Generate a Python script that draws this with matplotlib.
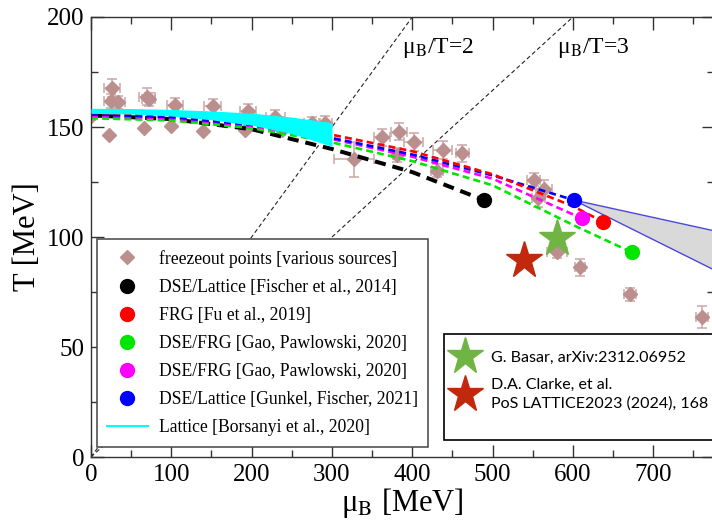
import numpy as np
import matplotlib
matplotlib.use("Agg")
import matplotlib.pyplot as plt
from matplotlib.lines import Line2D
from matplotlib.patches import Rectangle

plt.rcParams['font.family'] = ['Liberation Serif', 'DejaVu Serif']
plt.rcParams['mathtext.fontset'] = 'stix'
plt.rcParams['lines.scale_dashes'] = False

# freeze-out points: mu_B [MeV], T [MeV] and their errors
fo_mu = [0, 26, 24.5, 34, 22, 69.6, 72, 65.4, 104, 100, 151.3, 140, 195.3, 192,
         229.4, 237.7, 275, 291.6, 327, 362, 383, 401.6, 381, 438, 462, 430.7,
         551, 564.4, 557, 580, 609, 671, 760.7]
fo_T = [155, 167.6, 161.8, 161.3, 146.5, 163.8, 162.5, 149.7, 160, 150.5, 159.5,
        148.2, 157.4, 148.6, 154.7, 148.6, 151.7, 152, 135.3, 145.3, 147.9, 143.3,
        137.3, 139.5, 138, 130.1, 126, 122, 117.6, 93.3, 86.2, 74, 63.8]
fo_dmu = [5, 10, 8, 8, 0, 10, 8, 0, 10, 0, 10, 0, 10, 0, 12, 0, 10, 8, 25, 10,
          10, 12, 5, 12, 8, 8, 8, 10, 8, 12, 6, 8, 8]
fo_dT = [2, 4, 3, 3, 0, 4, 3, 0, 3, 0, 3, 0, 3, 0, 3, 0, 3, 3, 8, 4, 4, 4, 3,
         4, 4, 3, 3, 4, 4, 3, 4, 3, 5]

# crossover lines ending at the critical end points
fischer_mu = [0, 100, 200, 300, 400, 489]
fischer_T = [155.3, 153.6, 149, 140, 129.5, 116.8]
fu_mu = [0, 100, 200, 300, 400, 500, 600, 637]
fu_T = [156.5, 155.5, 152, 146.5, 139, 128.5, 114, 107]
gao_a_mu = [0, 100, 200, 300, 400, 500, 600, 673.6]
gao_a_T = [154, 153, 149.5, 143, 134.5, 123.5, 105.5, 93]
gao_b_mu = [0, 100, 200, 300, 400, 500, 611]
gao_b_T = [155, 154, 150.5, 144.5, 136.5, 126.5, 108.5]
gunkel_mu = [0, 100, 200, 300, 400, 500, 601]
gunkel_T = [155.7, 154.5, 151, 145, 137.5, 128, 116.8]

# first-order region beyond the Gunkel/Fischer CEP
band_mu = [601, 776]
band_hi = [116.8, 102.8]
band_lo = [116.8, 85]

# lattice band (Borsanyi et al.)
lat_mu = [0, 50, 100, 150, 200, 250, 300]
lat_hi = [158.5, 158.4, 158, 157.3, 156.3, 154.5, 152]
lat_lo = [156.2, 155.9, 155, 153.3, 150.8, 147, 141.2]

# CEP estimates (stars)
basar_mu, basar_T = 580, 99.4
clarke_mu, clarke_T = 538.6, 89.5

fo_col = '#bc8f8f'
green = '#00e600'
star_green = '#70b444'
star_red = '#c0290c'

fig = plt.figure(figsize=(7.12, 5.2), dpi=100)
ax = fig.add_axes([91 / 712, 63 / 520, 622.5 / 712, 440 / 520])

# mu_B/T = const lines
mu_line = np.array([0, 800])
for r in (2, 3):
    ax.plot(mu_line, mu_line / r, color='#222222', lw=0.8, dashes=(3, 2), zorder=1)

ax.errorbar(fo_mu, fo_T, xerr=fo_dmu, yerr=fo_dT, fmt='D', ms=7, color=fo_col,
            ecolor='#cba7a7', elinewidth=1.1, capsize=3.5, capthick=1.1, zorder=2)

ax.fill_between(band_mu, band_lo, band_hi, color='#d9d9d9', lw=0, zorder=2)
ax.plot(band_mu, band_hi, color='#4848dd', lw=1.0, zorder=2.2)
ax.plot(band_mu, band_lo, color='#4848dd', lw=1.0, zorder=2.2)

ax.plot(fischer_mu, fischer_T, color='black', lw=2.9, dashes=(8, 5), zorder=2.5)
ax.plot(gao_a_mu, gao_a_T, color=green, lw=1.9, dashes=(5, 3), zorder=2.5)
ax.plot(gao_b_mu, gao_b_T, color='#ff00ff', lw=1.9, dashes=(5, 3), zorder=2.5)
ax.plot(gunkel_mu, gunkel_T, color='#0000ff', lw=1.9, dashes=(5, 3), zorder=2.5)
ax.plot(fu_mu, fu_T, color='#ff0000', lw=1.9, dashes=(5, 3), zorder=2.5)

ax.fill_between(lat_mu, lat_lo, lat_hi, color='#00ffff', lw=0, zorder=3)

# end points
ends = [(fischer_mu, fischer_T, 'black'), (fu_mu, fu_T, '#ff0000'),
        (gao_a_mu, gao_a_T, green), (gao_b_mu, gao_b_T, '#ff00ff'),
        (gunkel_mu, gunkel_T, '#0000ff')]
for m, t, c in ends:
    ax.plot(m[-1], t[-1], 'o', ms=10, color=c, zorder=6)

ax.plot(basar_mu, basar_T, '*', ms=28, color=star_green, zorder=6)
ax.plot(clarke_mu, clarke_T, '*', ms=28, color=star_red, zorder=6)

ax.text(386.8, 183.6, 'μ$_\\mathrm{B}$/T=2', fontsize=17)
ax.text(580, 183.6, 'μ$_\\mathrm{B}$/T=3', fontsize=17)

ax.set_xlim(0, 775)
ax.set_ylim(0, 200)
ax.set_xticks(np.arange(0, 701, 100))
ax.set_xticks(np.arange(0, 776, 50), minor=True)
ax.set_yticks(np.arange(0, 201, 50))
ax.set_yticks(np.arange(0, 201, 25), minor=True)
ax.tick_params(which='both', direction='in', top=True, right=True,
               width=1.0, color='#333333', labelsize=18)
ax.tick_params(which='major', length=9, pad=5)
ax.tick_params(which='minor', length=5)
for s in ax.spines.values():
    s.set_linewidth(1.0)
    s.set_color('#333333')

ax.set_xlabel('μ$_\\mathrm{B}$ [MeV]', fontsize=22, labelpad=0)
ax.set_ylabel('T [MeV]', fontsize=22, labelpad=3)

handles = [
    Line2D([], [], ls='none', marker='D', ms=7, color=fo_col),
    Line2D([], [], ls='none', marker='o', ms=10, color='black'),
    Line2D([], [], ls='none', marker='o', ms=10, color='#ff0000'),
    Line2D([], [], ls='none', marker='o', ms=10, color=green),
    Line2D([], [], ls='none', marker='o', ms=10, color='#ff00ff'),
    Line2D([], [], ls='none', marker='o', ms=10, color='#0000ff'),
    Line2D([], [], color='#00ffff', lw=1.5),
]
labels = [
    'freezeout points [various sources]',
    'DSE/Lattice [Fischer et al., 2014]',
    'FRG [Fu et al., 2019]',
    'DSE/FRG [Gao, Pawlowski, 2020]',
    'DSE/FRG [Gao, Pawlowski, 2020]',
    'DSE/Lattice [Gunkel, Fischer, 2021]',
    'Lattice [Borsanyi et al., 2020]',
]
leg1 = ax.legend(handles, labels, loc='lower left', bbox_to_anchor=(0.009, 0.023),
                 borderaxespad=0, fontsize=12.7, handlelength=2.3, handletextpad=0.62,
                 borderpad=0.6, labelspacing=0.63, fancybox=False, framealpha=1,
                 edgecolor='#444444')
leg1.get_frame().set_linewidth(1.1)
leg1.set_zorder(7)
ax.add_artist(leg1)

box = Rectangle((0.5673, 0.0386), 0.5, 0.241, transform=ax.transAxes,
                fc='white', ec='black', lw=1.2, clip_on=False, zorder=7)
ax.add_patch(box)

star_handles = [
    Line2D([], [], ls='none', marker='*', ms=28, color=star_green),
    Line2D([], [], ls='none', marker='*', ms=28, color=star_red),
]
leg2 = ax.legend(star_handles,
                 ['G. Basar, arXiv:2312.06952',
                  'D.A. Clarke, et al.\nPoS LATTICE2023 (2024), 168'],
                 loc='upper left', bbox_to_anchor=(0.5673, 0.2795), borderaxespad=0,
                 frameon=False, prop={'family': 'Lato', 'size': 11.5},
                 handlelength=0.46, handletextpad=1.4, borderpad=1.05,
                 labelspacing=0.8)
for t in leg2.get_texts():
    t.set_linespacing(1.45)
leg2.set_zorder(8)

fig.savefig('out.png', dpi=100)
